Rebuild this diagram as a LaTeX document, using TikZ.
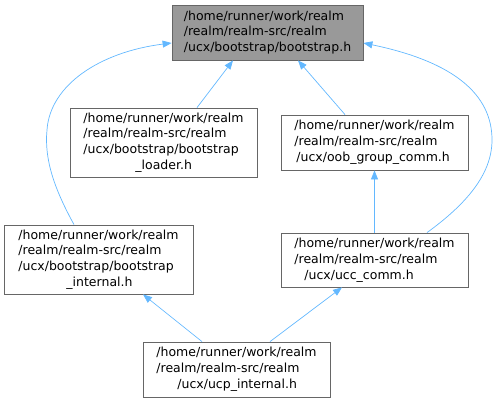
\documentclass[tikz,border=0pt]{standalone}
\usepackage{fontspec}
\setmainfont{DejaVu Sans}
\usetikzlibrary{arrows.meta,positioning}
\definecolor{edgeblue}{HTML}{63B8FF}
\definecolor{framegray}{HTML}{666666}
\definecolor{boxgray}{HTML}{999999}

\begin{document}
\begin{tikzpicture}[x=1pt, y=-1pt,
    file/.style={draw=framegray, line width=0.8pt, fill=white, align=left, inner sep=0pt, minimum width=187pt, minimum height=55pt, font=\fontsize{12.5}{15.8}\selectfont},
    cur/.style={file, fill=boxgray, minimum width=191pt},
    arr/.style={-{Triangle[length=9pt,width=7pt]}, draw=edgeblue, line width=0.7pt}
]
\useasboundingbox (0,0) rectangle (497,403);
\node[cur] (top) at (267.5,32.5) {/home/runner/work/realm\\/realm/realm-src/realm\\/ucx/bootstrap/bootstrap.h};
\node[file, minimum height=69pt] (loader) at (163.5,142.5) {/home/runner/work/realm\\/realm/realm-src/realm\\/ucx/bootstrap/bootstrap\\\hspace*{52pt}\_loader.h};
\node[file] (oob) at (374.5,142.5) {/home/runner/work/realm\\/realm/realm-src/realm\\\hspace*{2pt}/ucx/oob\_group\_comm.h};
\node[file, minimum width=189pt, minimum height=69pt] (internal) at (98.5,259.5) {/home/runner/work/realm\\/realm/realm-src/realm\\/ucx/bootstrap/bootstrap\\\hspace*{48pt}\_internal.h};
\node[file, minimum height=54pt] (ucc) at (374.5,260) {/home/runner/work/realm\\/realm/realm-src/realm\\\hspace*{10pt}/ucx/ucc\_comm.h};
\node[file] (ucp) at (236.5,369.5) {/home/runner/work/realm\\/realm/realm-src/realm\\\hspace*{21pt}/ucx/ucp\_internal.h};

\draw[arr] ([xshift=33.5pt]loader.north) -- ([xshift=-34.5pt]top.south);
\draw[arr] ([xshift=-29.5pt]oob.north) -- ([xshift=30.5pt]top.south);
\draw[arr] (ucc.north) -- (oob.south);
\draw[arr] ([xshift=-34.5pt]ucp.north) -- ([xshift=44.5pt]internal.south);
\draw[arr] ([xshift=33.5pt]ucp.north) -- ([xshift=-32.5pt]ucc.south);
\draw[arr] ([xshift=-24.5pt]internal.north) .. controls (55,190) and (44,160) .. (47,130) .. controls (50,85) and (100,52) .. ([yshift=-10.5pt]top.west);
\draw[arr] ([xshift=52.5pt]ucc.north) .. controls (465,205) and (492,175) .. (492,140) .. controls (492,95) and (455,62) .. ([yshift=-10.5pt]top.east);
\end{tikzpicture}
\end{document}
